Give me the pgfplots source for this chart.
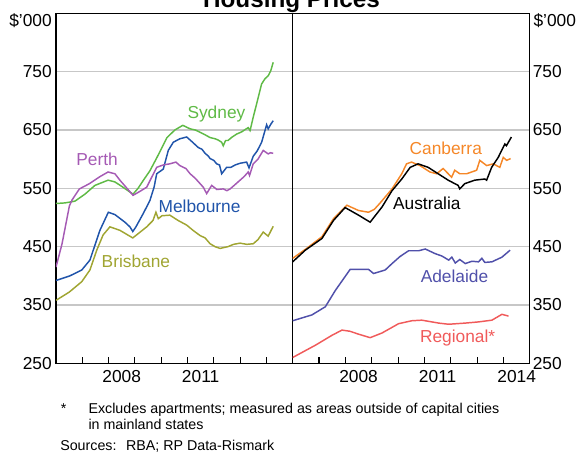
\documentclass[border=0pt]{standalone}
\usepackage{fontspec}
\setmainfont{Liberation Sans}
\usepackage{pgfplots}
\pgfplotsset{compat=1.18}
\definecolor{syd}{RGB}{95,186,70}
\definecolor{mel}{RGB}{32,84,170}
\definecolor{per}{RGB}{165,90,180}
\definecolor{bri}{RGB}{160,165,50}
\definecolor{can}{RGB}{245,135,40}
\definecolor{ade}{RGB}{80,80,170}
\definecolor{reg}{RGB}{240,90,90}
\newcommand{\lab}{\fontsize{13}{15.6}\selectfont}
\newcommand{\foot}{\fontsize{10.7}{12.8}\selectfont}
\begin{document}
\begin{tikzpicture}
\useasboundingbox (0,-339.75pt) rectangle (433.5pt,0);
\pgfplotsset{
  panel/.style={
    scale only axis, height=262.5pt,
    xmin=2006, xmax=2015, ymin=250, ymax=850,
    axis line style={black, line width=0.8pt},
    xtick={2007,...,2014}, xticklabels={},
    xtick pos=left, tick align=inside, major tick length=5pt,
    xtick style={black, line width=0.8pt},
    extra x tick style={grid=none, tick style={draw=none}},
    ytick={250,350,...,750},
    ytick style={draw=none},
    ymajorgrids, grid style={black!22, line width=0.9pt},
    /pgf/number format/assume math mode=true,
    ticklabel style={font=\lab},
    xticklabel style={yshift=-2pt},
    every axis plot/.append style={line width=1.1pt, mark=none},
  }
}
% Left panel
\begin{axis}[panel, at={(42pt,-272.5pt)}, anchor=south west, width=177.5pt,
  extra x ticks={2008.5,2011.5}, extra x tick labels={2008,2011},
  yticklabel style={inner sep=0pt, xshift=-3pt}]
\addplot[syd] coordinates {
(2006.00,524) (2006.34,525) (2006.72,528) (2007.10,540) (2007.48,555) (2007.98,564)
(2008.24,561) (2008.51,553) (2008.93,540) (2009.12,550) (2009.31,563) (2009.57,580)
(2009.84,603) (2010.03,620) (2010.22,637) (2010.52,650) (2010.82,658) (2011.10,652)
(2011.30,650) (2011.48,646) (2011.70,641) (2011.86,637) (2012.05,635) (2012.16,633)
(2012.30,629) (2012.36,623) (2012.45,632) (2012.54,632) (2012.70,638) (2012.87,643)
(2013.07,647) (2013.20,651) (2013.31,654) (2013.38,649) (2013.49,670) (2013.63,695)
(2013.82,729) (2013.95,738) (2014.07,743) (2014.17,752) (2014.26,766)};
\addplot[mel] coordinates {
(2006.00,392) (2006.53,400) (2006.98,410) (2007.29,427) (2007.67,478) (2007.99,509)
(2008.24,505) (2008.62,492) (2008.81,484) (2008.92,476) (2009.04,484) (2009.32,507)
(2009.57,529) (2009.73,552) (2009.83,575) (2010.08,583) (2010.27,615) (2010.46,629)
(2010.71,635) (2010.97,638) (2011.17,630) (2011.41,620) (2011.55,617) (2011.67,610)
(2011.80,605) (2011.86,601) (2012.00,598) (2012.11,592) (2012.22,590) (2012.30,575)
(2012.49,586) (2012.65,586) (2012.81,590) (2013.00,593) (2013.25,595) (2013.34,585)
(2013.50,605) (2013.65,614) (2013.82,629) (2014.01,659) (2014.07,652) (2014.17,660) (2014.26,666)};
\addplot[per] coordinates {
(2006.00,415) (2006.23,455) (2006.51,520) (2006.61,530) (2006.89,549) (2007.27,558)
(2007.67,570) (2007.98,578) (2008.24,575) (2008.43,564) (2008.70,550) (2008.93,538)
(2009.20,545) (2009.45,552) (2009.65,570) (2009.83,586) (2010.07,590) (2010.33,592)
(2010.56,595) (2010.71,589) (2010.94,584) (2011.10,575) (2011.30,567) (2011.48,558)
(2011.60,552) (2011.73,541) (2011.92,555) (2012.12,548) (2012.36,549) (2012.50,546)
(2012.62,549) (2012.80,556) (2013.00,564) (2013.15,570) (2013.31,578) (2013.36,572)
(2013.50,592) (2013.68,600) (2013.88,615) (2014.07,609) (2014.15,611) (2014.26,610)};
\addplot[bri] coordinates {
(2006.00,358) (2006.50,372) (2006.98,390) (2007.29,410) (2007.55,444) (2007.79,470)
(2008.05,484) (2008.43,478) (2008.92,465) (2009.20,475) (2009.45,484) (2009.69,495)
(2009.80,509) (2009.89,498) (2010.03,503) (2010.33,504) (2010.64,495) (2010.97,487)
(2011.21,478) (2011.48,469) (2011.67,465) (2011.86,455) (2012.05,450) (2012.24,447)
(2012.54,450) (2012.75,454) (2013.00,456) (2013.26,454) (2013.50,455) (2013.68,462)
(2013.88,475) (2014.07,468) (2014.26,485)};
\node[text=syd, font=\lab] at (axis cs:2012.10,678) {Sydney};
\node[text=per, font=\lab] at (axis cs:2007.56,599.5) {Perth};
\node[text=mel, font=\lab] at (axis cs:2011.46,520) {Melbourne};
\node[text=bri, font=\lab] at (axis cs:2009.04,425.5) {Brisbane};
\end{axis}
% Right panel
\begin{axis}[panel, at={(219.5pt,-272.5pt)}, anchor=south west, width=177.9pt,
  extra x ticks={2008.5,2011.5,2014.5}, extra x tick labels={2008,2011,2014},
  yticklabel pos=right,
  yticklabel style={inner sep=0pt, xshift=2pt}]
\addplot[can] coordinates {
(2006.00,430) (2006.50,446) (2007.11,467) (2007.55,498) (2008.06,521) (2008.50,512)
(2008.88,509) (2009.10,514) (2009.32,525) (2009.77,549) (2010.14,575) (2010.32,592)
(2010.51,595) (2010.83,589) (2011.21,578) (2011.46,575) (2011.71,584) (2012.03,569)
(2012.15,581) (2012.34,575) (2012.60,575) (2012.79,578) (2012.98,581) (2013.10,598)
(2013.36,589) (2013.61,592) (2013.86,586) (2013.99,603) (2014.12,598) (2014.27,601)};
\addplot[black] coordinates {
(2006.00,424) (2006.48,444) (2007.11,464) (2007.55,495) (2007.99,517) (2008.50,504)
(2008.94,492) (2009.39,518) (2009.77,546) (2010.14,566) (2010.46,586) (2010.76,592)
(2011.14,586) (2011.52,575) (2011.90,564) (2012.28,555) (2012.34,549) (2012.53,558)
(2012.91,564) (2013.29,566) (2013.36,564) (2013.55,586) (2013.80,603) (2014.05,626)
(2014.11,623) (2014.30,638)};
\addplot[ade] coordinates {
(2006.00,323) (2006.73,333) (2007.24,347) (2007.62,375) (2008.18,411) (2008.88,411)
(2009.07,404) (2009.51,410) (2009.77,421) (2010.07,433) (2010.40,443) (2010.78,443)
(2011.03,446) (2011.41,438) (2011.66,434) (2011.92,427) (2012.04,432) (2012.17,422)
(2012.34,428) (2012.55,421) (2012.80,425) (2013.05,424) (2013.18,430) (2013.29,423)
(2013.56,424) (2013.94,432) (2014.25,444)};
\addplot[reg] coordinates {
(2006.00,260) (2006.86,281) (2007.49,298) (2007.87,307) (2008.17,305) (2008.50,300)
(2008.94,294) (2009.39,302) (2010.02,318) (2010.52,323) (2010.90,324) (2011.54,319)
(2011.92,317) (2012.55,319) (2013.05,321) (2013.56,324) (2013.94,334) (2014.19,331)};
\node[text=can, font=\lab] at (axis cs:2011.81,619) {Canberra};
\node[text=black, font=\lab] at (axis cs:2011.09,524) {Australia};
\node[text=ade, font=\lab] at (axis cs:2012.14,399) {Adelaide};
\node[text=reg, font=\lab] at (axis cs:2012.26,293) {Regional*};
\end{axis}
% Units
\node[font=\lab, anchor=base east, inner sep=0pt] at (39pt,-20pt) {\$’000};
\node[font=\lab, anchor=base west, inner sep=0pt] at (400pt,-20pt) {\$’000};
% Title (cut at top, as in the reference)
\node[font=\fontsize{18.2}{22}\selectfont\bfseries, anchor=base, inner sep=0pt] at (218.6pt,-5.6pt) {Housing Prices};
% Footnotes
\node[font=\foot, anchor=base west, inner sep=0pt] at (45.5pt,-310.3pt) {*};
\node[font=\foot, anchor=base west, inner sep=0pt] at (66.2pt,-310.3pt) {Excludes apartments; measured as areas outside of capital cities};
\node[font=\foot, anchor=base west, inner sep=0pt] at (66.2pt,-322.3pt) {in mainland states};
\node[font=\foot, anchor=base west, inner sep=0pt] at (45pt,-337.7pt) {Sources:};
\node[font=\foot, anchor=base west, inner sep=0pt] at (94.3pt,-337.7pt) {RBA; RP Data-Rismark};
\end{tikzpicture}
\end{document}
